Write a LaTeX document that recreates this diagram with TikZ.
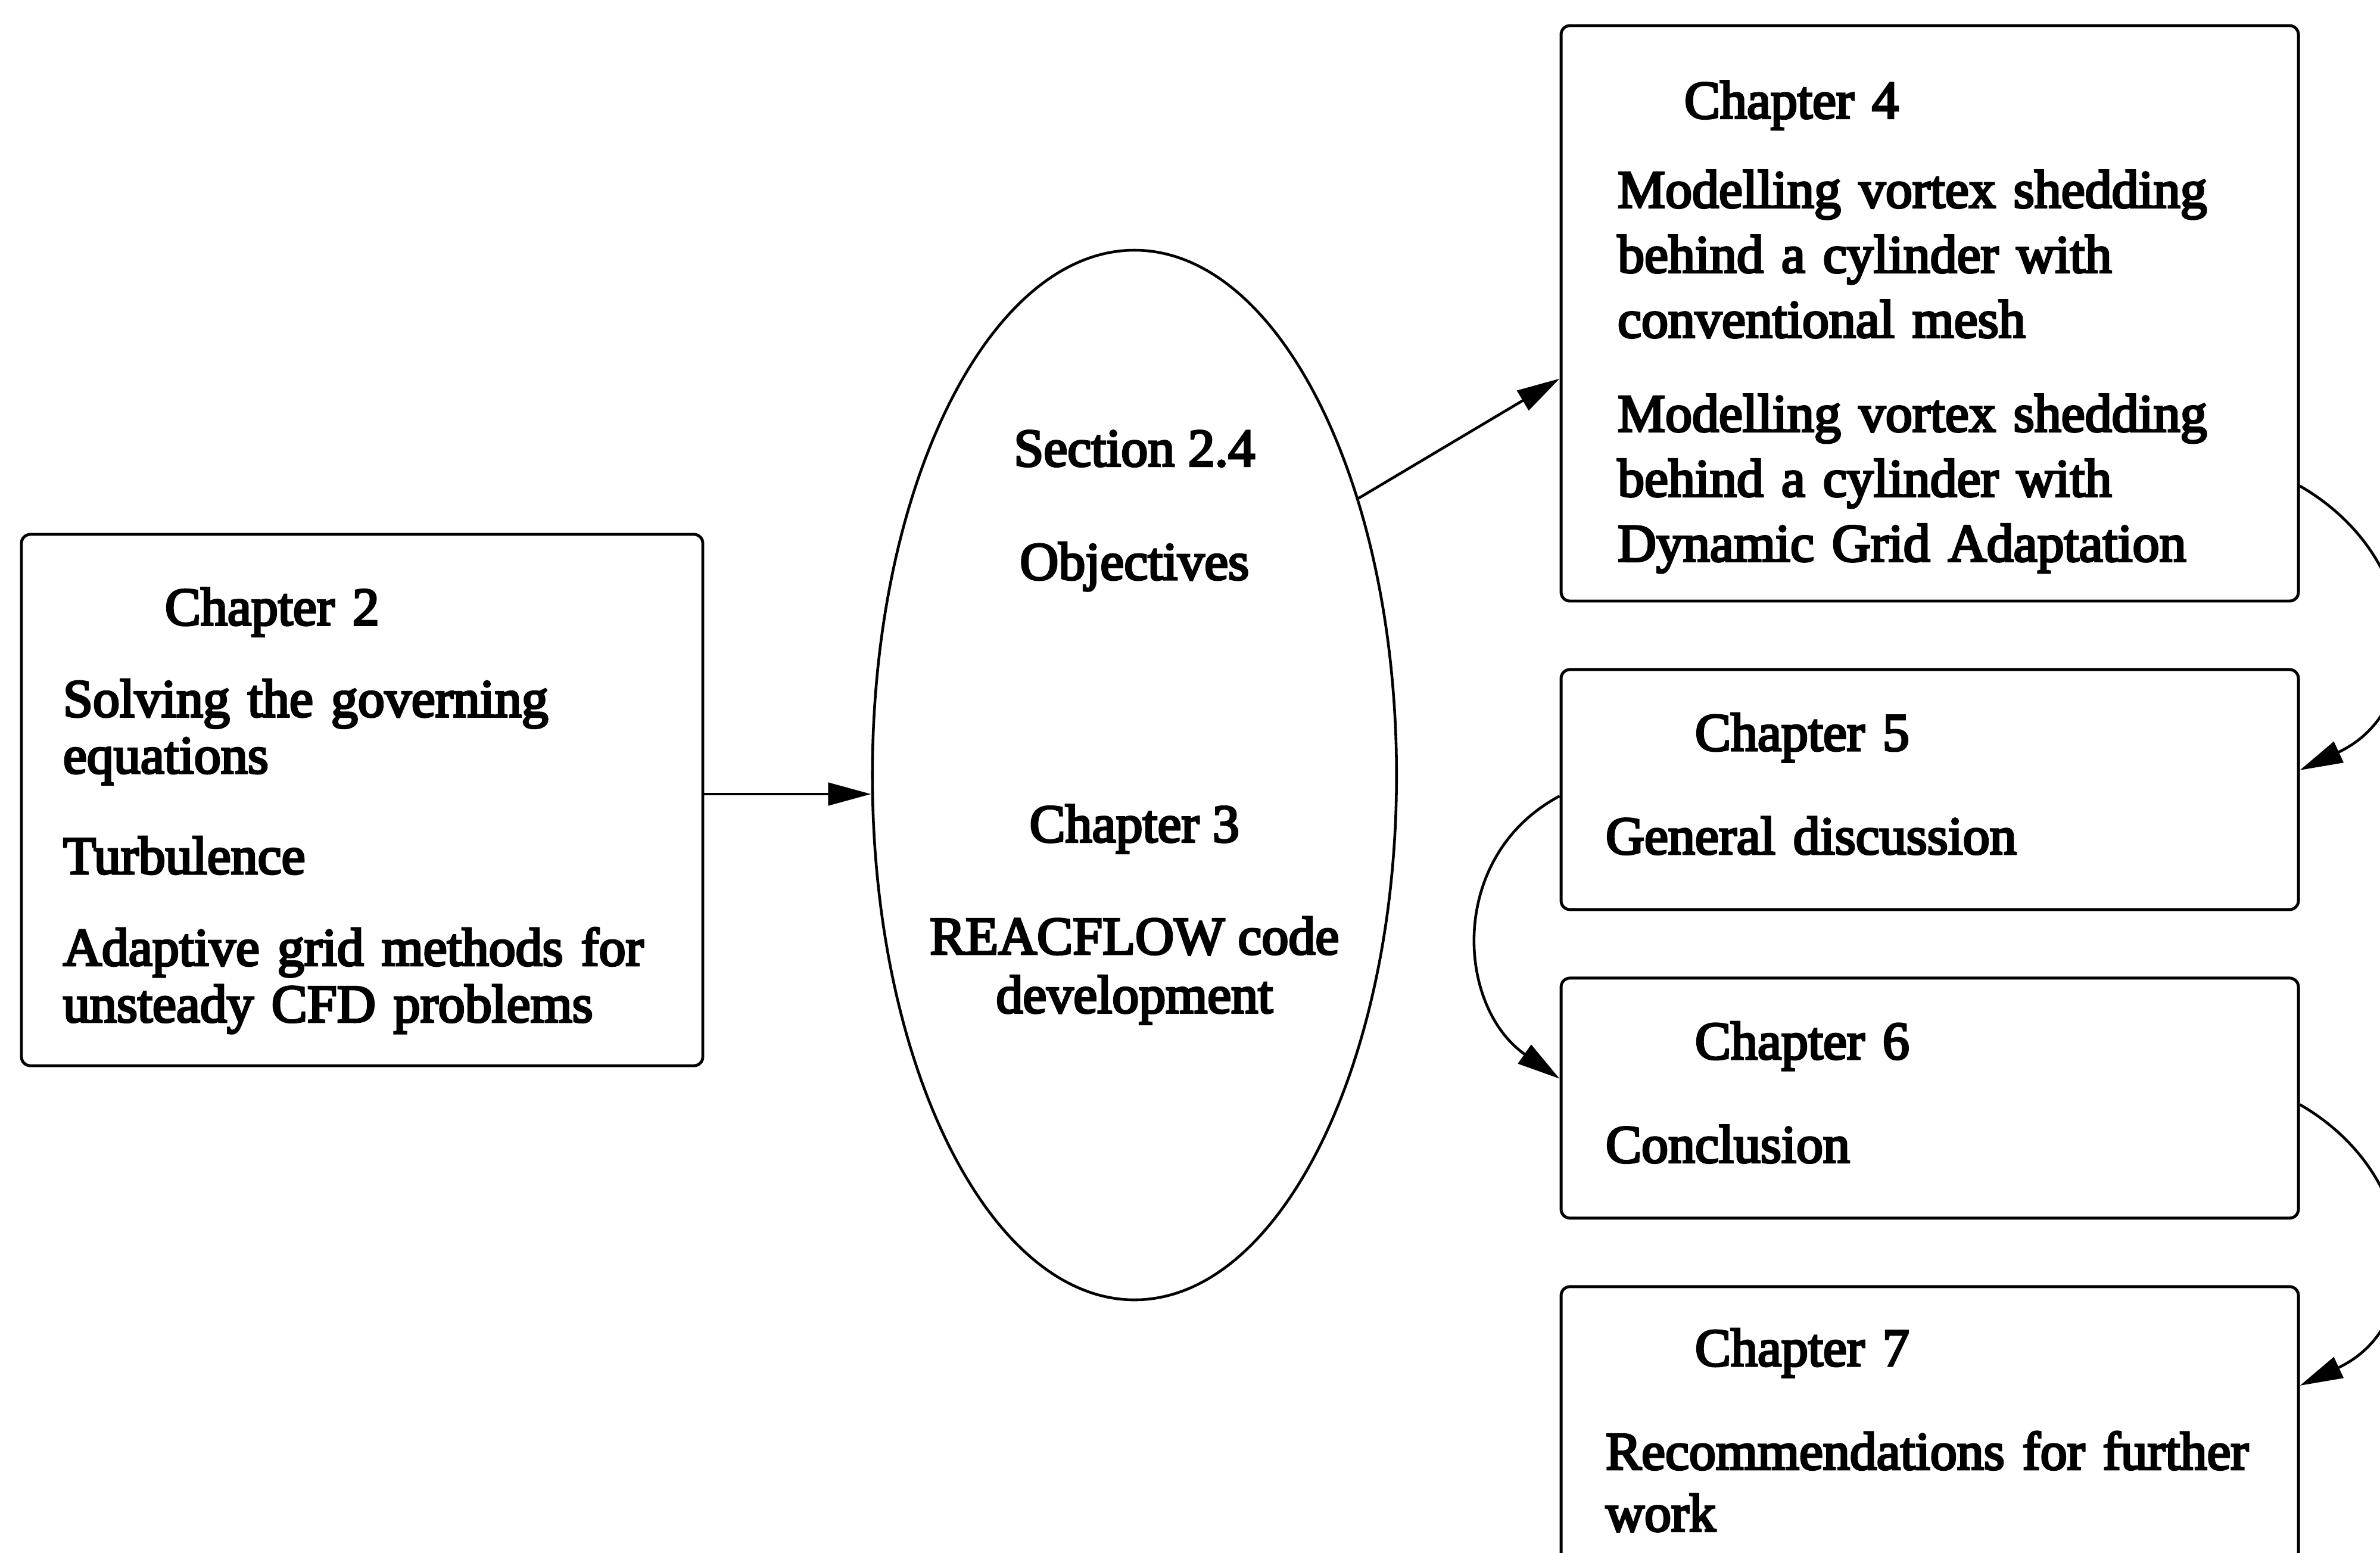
\documentclass[tikz,border=0pt]{standalone}
\usepackage{fontspec}
\setmainfont{Liberation Serif}[FakeBold=4]
\usetikzlibrary{shapes, arrows.meta, positioning}
\tikzstyle{chapbox} = [rectangle, rounded corners=0.15cm, draw=black, line width=1.4pt, align=left, text width=10.88cm, inner xsep=0.75cm, minimum width=12.38cm, font=\fontsize{25.6}{29.5}\selectfont]
\tikzstyle{objellipse} = [ellipse, draw=black, line width=1.3pt, minimum width=8.8cm, minimum height=17.62cm, inner sep=0pt]
\tikzstyle{connector} = [draw, line width=1.3pt, -{Triangle[length=0.72cm, width=0.38cm]}]

\begin{document}
\begin{tikzpicture}[node distance=1.1cm]
    % Frame
    \path [use as bounding box, clip] (0,0) rectangle (39.96,-26.06);

    % Nodes
    \node [chapbox, text width=10.04cm, inner xsep=0.7cm, minimum width=11.44cm, minimum height=8.92cm, font=\fontsize{25.6}{27}\selectfont] (ch2) at (6.08,-13.43)
        {\rule{0pt}{0.98cm}\hspace*{1.71cm}Chapter 2\\[0.59cm] Solving the governing\\ equations\\[0.74cm] Turbulence\\[0.59cm] Adaptive grid methods for\\ unsteady CFD problems};
    \node [objellipse, right=2.8cm of ch2, yshift=0.42cm] (ell) {};
    \node [align=center, font=\fontsize{25.6}{28}\selectfont] (ellText) at ([yshift=0.8cm]ell.center)
        {Section 2.4\\[0.92cm] Objectives\\[3.42cm] Chapter 3\\[0.9cm] REACFLOW code\\ development};
    \node [chapbox, text width=10.48cm, inner xsep=0.94cm, minimum height=9.66cm, font=\fontsize{25.6}{31}\selectfont] (ch4) at (32.40,-5.26)
        {\rule{0pt}{1.08cm}\hspace*{1.12cm}Chapter 4\\[0.41cm] Modelling vortex shedding\\ behind a cylinder with\\ conventional mesh\\[0.49cm] Modelling vortex shedding\\ behind a cylinder with\\ Dynamic Grid Adaptation};
    \node [chapbox, minimum height=4.03cm, below=of ch4] (ch5) {\hspace*{1.5cm}Chapter 5\\[0.7cm] General discussion\rule[-0.2cm]{0pt}{0pt}};
    \node [chapbox, minimum height=4.03cm, below=of ch5] (ch6) {\hspace*{1.5cm}Chapter 6\\[0.7cm] Conclusion\rule[-0.2cm]{0pt}{0pt}};
    \node [chapbox, minimum height=5.07cm, below=of ch6] (ch7) {\hspace*{1.5cm}Chapter 7\\[0.7cm] \mbox{Recommendations for further}\\ work\rule[-0.26cm]{0pt}{0pt}};

    % Arrows
    \path [connector] (ch2.1.5) -- (ch2.1.5 -| ell.west);
    \path [connector] (ell.51) -- (ch4.190);
    \path [connector] (ch4.-25) to[out=-30, in=25, looseness=1.3] (ch5.3);
    \path [connector] (ch5.181) to[out=208, in=145, looseness=1.15] (ch6.177);
    \path [connector] (ch6.-1) to[out=-30, in=25, looseness=1.3] (ch7.8);
\end{tikzpicture}
\end{document}
